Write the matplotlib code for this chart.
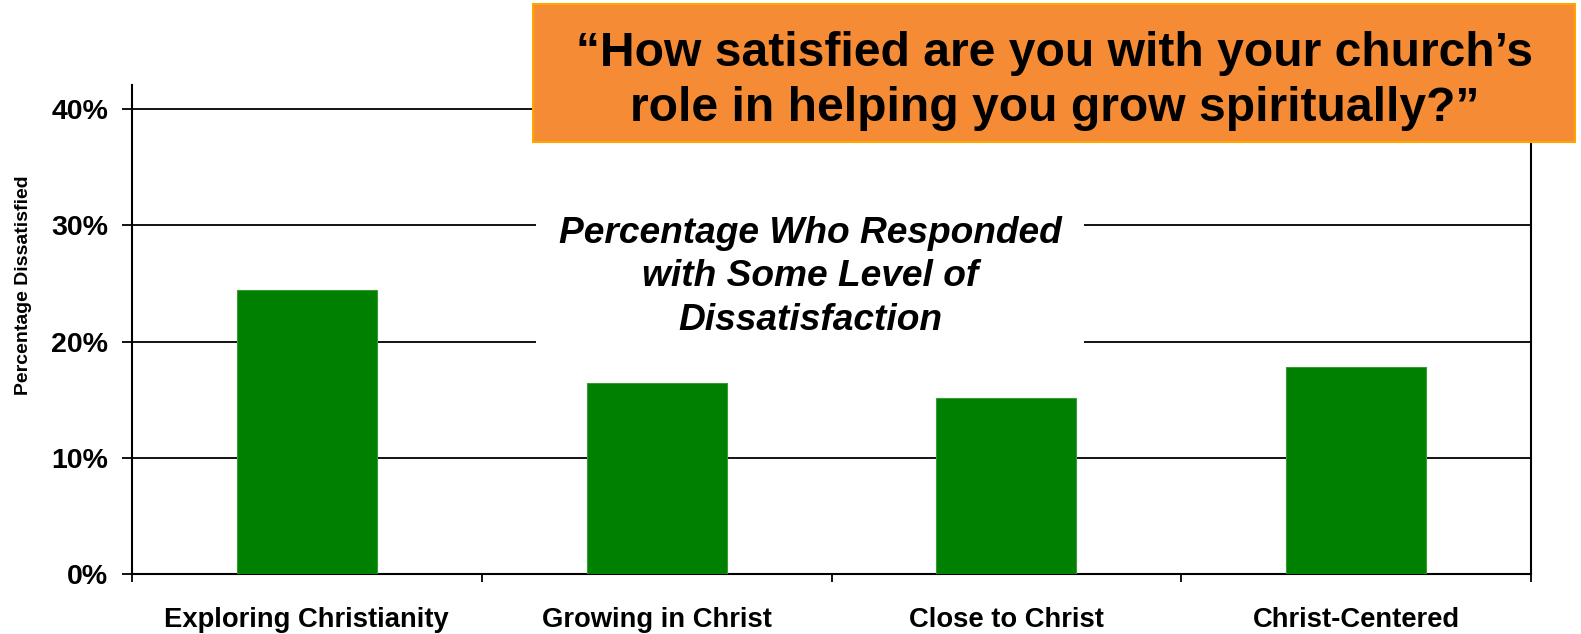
import matplotlib
matplotlib.use("Agg")
import matplotlib.pyplot as plt
from matplotlib.patches import Rectangle
from matplotlib.ticker import FuncFormatter

categories = ["Exploring Christianity", "Growing in Christ", "Close to Christ", "Christ-Centered"]
values = [24.4, 16.4, 15.1, 17.8]
yticks = [0, 10, 20, 30, 40]

plt.rcParams['font.family'] = ['Liberation Sans', 'DejaVu Sans']

W, H = 1581, 634
fig = plt.figure(figsize=(W / 100, H / 100), dpi=100)
x0, x1 = 132, 1531
y0, y40, ytop = 574, 109, 85
ax = fig.add_axes([x0 / W, 1 - y0 / H, (x1 - x0) / W, (y0 - ytop) / H])

ymax = 40 * (y0 - ytop) / (y0 - y40)
ax.set_ylim(0, ymax)
ax.set_xlim(-0.5, len(categories) - 0.5)

x = list(range(len(categories)))
ax.bar(x, values, width=0.4, color="#008000", edgecolor="#3a9a3a", linewidth=0.8, zorder=3)

ax.set_yticks(yticks)
ax.yaxis.set_major_formatter(FuncFormatter(lambda v, p: f"{int(v)}%"))
ax.grid(axis="y", color="black", linewidth=1.3, zorder=1)
ax.set_axisbelow(True)

ax.set_xticks([i - 0.5 for i in range(len(categories) + 1)])
ax.set_xticklabels([])
ax.set_xticks(x, minor=True)
ax.set_xticklabels(categories, minor=True, fontsize=19.7, fontweight="bold")
ax.tick_params(axis="x", which="minor", length=0, pad=24)
ax.tick_params(axis="x", which="major", length=6, width=1.3, direction="out")
ax.tick_params(axis="y", length=7.2, width=1.3, labelsize=20.5, pad=10)
for lbl in ax.get_yticklabels():
    lbl.set_fontweight("bold")

ax.spines["top"].set_visible(False)
for s in ["left", "right", "bottom"]:
    ax.spines[s].set_linewidth(1.5)
    ax.spines[s].set_color("black")

fig.text(24 / W, 1 - 285 / H, "Percentage Dissatisfied", rotation=90, fontsize=14,
         fontweight="bold", ha="center", va="center")

# inner annotation with white background
fig.text(810 / W, 1 - 277 / H,
         "Percentage Who Responded\nwith Some Level of\nDissatisfaction",
         ha="center", va="center", fontsize=26.7, fontweight="bold", style="italic",
         linespacing=1.33,
         bbox=dict(facecolor="white", edgecolor="none", pad=16), zorder=5)

# orange title box
fig.patches.append(Rectangle((533 / W, 1 - 142 / H), (1575 - 533) / W, (142 - 4) / H,
                             transform=fig.transFigure, facecolor="#F58B35",
                             edgecolor="#FFA500", linewidth=1.5, zorder=10))
fig.text(1055 / W, 1 - 81 / H,
         "\u201cHow satisfied are you with your church\u2019s\nrole in helping you grow spiritually?\u201d",
         ha="center", va="center", fontsize=34.6, fontweight="bold", linespacing=1.28, zorder=11)

fig.savefig("out.png", dpi=100)
